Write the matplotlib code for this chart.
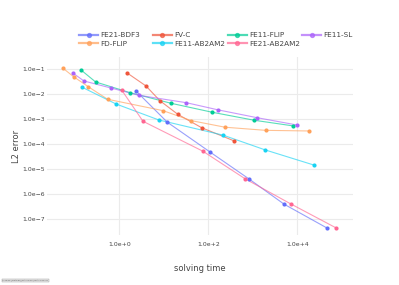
import matplotlib
matplotlib.use("Agg")
import matplotlib.pyplot as plt
import numpy as np
from matplotlib.ticker import FuncFormatter, FixedLocator, NullLocator
from matplotlib.lines import Line2D

# data (solving time, L2 error)
names = ["FE21-BDF3", "FV-C", "FE11-FLIP", "FE11-SL",
         "FD-FLIP", "FE11-AB2AM2", "FE21-AB2AM2"]
colors = ["#636efa", "#EF553B", "#00cc96", "#ab63fa",
          "#FFA15A", "#19d3f3", "#FF6692"]

fe21_bdf3_t = [2.37, 12.0, 109, 834, 5030, 45800]
fe21_bdf3_e = [0.0136, 0.00076, 4.9e-5, 4.0e-6, 4.0e-7, 4.5e-8]

fv_c_t = [1.47, 3.98, 8.2, 20.8, 71, 384]
fv_c_e = [0.073, 0.0215, 0.0055, 0.00156, 0.000457, 0.000135]

fe11_flip_t = [0.138, 0.295, 1.74, 14.5, 123, 1080, 8130]
fe11_flip_e = [0.094, 0.031, 0.0116, 0.00436, 0.0019, 0.00091, 0.00054]

fe11_sl_t = [0.0925, 0.161, 0.64, 2.73, 32, 168, 1224, 9700]
fe11_sl_e = [0.069, 0.034, 0.0179, 0.0091, 0.0046, 0.00236, 0.00116, 0.00059]

fd_flip_t = [0.0535, 0.094, 0.201, 0.548, 9.6, 41.5, 237, 1950, 18000]
fd_flip_e = [0.113, 0.0506, 0.0201, 0.0063, 0.00221, 0.00088, 0.00048,
             0.00036, 0.00034]

fe11_ab2am2_t = [0.1475, 0.843, 7.68, 217, 1910, 24100]
fe11_ab2am2_e = [0.019, 0.0041, 0.00094, 0.00023, 5.9e-5, 1.45e-5]

fe21_ab2am2_t = [1.13, 3.41, 75, 678, 7110, 74000]
fe21_ab2am2_e = [0.0149, 0.00083, 5.3e-5, 4.1e-6, 4.1e-7, 4.5e-8]

series = [
    (fe21_bdf3_t, fe21_bdf3_e),
    (fv_c_t, fv_c_e),
    (fe11_flip_t, fe11_flip_e),
    (fe11_sl_t, fe11_sl_e),
    (fd_flip_t, fd_flip_e),
    (fe11_ab2am2_t, fe11_ab2am2_e),
    (fe21_ab2am2_t, fe21_ab2am2_e),
]

x_ticks = [1e0, 1e2, 1e4]
y_ticks = [1e-1, 1e-2, 1e-3, 1e-4, 1e-5, 1e-6, 1e-7]

text_color = "#444444"
grid_color = "#ebebeb"

fig = plt.figure(figsize=(3.99, 2.85), dpi=100)
ax = fig.add_axes([0.118, 0.1754, 0.767, 0.6246])

for (t, e), c in zip(series, colors):
    ax.plot(t, e, "-", color=c, lw=0.8, alpha=0.65, zorder=2)
    ax.plot(t, e, "o", color=c, ms=3.0, mew=0, zorder=3)

ax.set_xscale("log")
ax.set_yscale("log")
ax.set_xlim(10 ** -1.62, 10 ** 5.25)
ax.set_ylim(10 ** -7.63, 10 ** -0.51)


def sci_fmt(v, pos):
    ex = int(round(np.log10(v)))
    return f"1.0e{ex:+d}".replace("-", "\u2212")


ax.xaxis.set_major_locator(FixedLocator(x_ticks))
ax.yaxis.set_major_locator(FixedLocator(y_ticks))
ax.xaxis.set_minor_locator(NullLocator())
ax.yaxis.set_minor_locator(NullLocator())
ax.xaxis.set_major_formatter(FuncFormatter(sci_fmt))
ax.yaxis.set_major_formatter(FuncFormatter(sci_fmt))
ax.tick_params(axis="both", length=0, labelsize=4.4, colors=text_color)
ax.tick_params(axis="x", pad=5)
ax.tick_params(axis="y", pad=1.5)
ax.grid(True, color=grid_color, lw=0.8)
ax.set_axisbelow(True)
for s in ax.spines.values():
    s.set_visible(False)

ax.set_xlabel("solving time", fontsize=6, color=text_color, labelpad=12)
ax.set_ylabel("L2 error", fontsize=6, color=text_color, va="center")
ax.yaxis.set_label_coords(-0.1, 0.5)

# legend: 4 columns, filled row by row like the original
col_x = [0.198, 0.383, 0.571, 0.757]
for col in range(4):
    idx = [i for i in (col, col + 4) if i < len(names)]
    handles = [Line2D([0], [0], color=colors[i], lw=1.6, alpha=0.7,
                      marker="o", ms=2.8, mfc=colors[i], mec=colors[i])
               for i in idx]
    leg = fig.legend(handles, [names[i] for i in idx], loc="upper left",
                     bbox_to_anchor=(col_x[col] - 0.012, 0.905),
                     frameon=False, fontsize=5.2, handlelength=2.6,
                     handletextpad=0.3, labelspacing=0.35, borderpad=0.2)
    for txt in leg.get_texts():
        txt.set_color(text_color)

fig.text(0.006, 0.013, "Loading [MathJax]/extensions/MathMenu.js",
         fontsize=1.5, color="#555555", ha="left", va="bottom",
         bbox=dict(boxstyle="square,pad=0.3", fc="#e6e6e6", ec="#999999",
                   lw=0.3))

fig.savefig("out.png", dpi=100)
